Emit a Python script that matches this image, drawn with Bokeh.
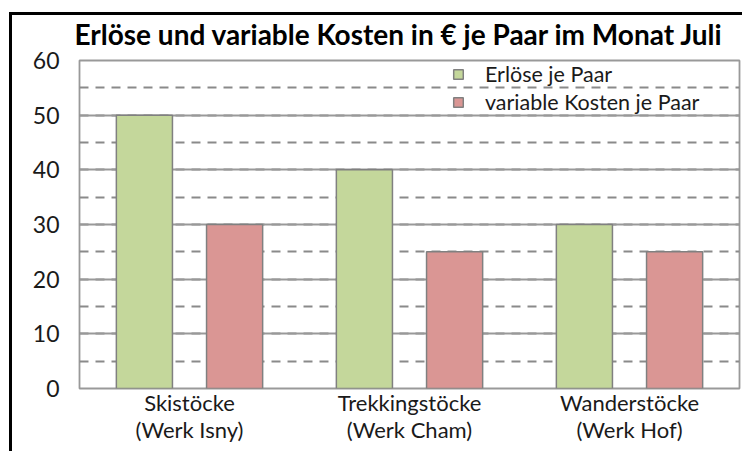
from bokeh.plotting import figure
from bokeh.models import (FactorRange, Range1d, SingleIntervalTicker, Legend,
                          LegendItem, ColumnDataSource)
from bokeh.transform import dodge
from bokeh.embed import file_html
from bokeh.resources import INLINE

# ---- data ----
categories = ["Skistöcke\n(Werk Isny)", "Trekkingstöcke\n(Werk Cham)", "Wanderstöcke\n(Werk Hof)"]
erloese = [50, 40, 30]
kosten = [30, 25, 25]
series_names = ["Erlöse je Paar", "variable Kosten je Paar"]
title_text = "Erlöse und variable Kosten in € je Paar im Monat Juli"

GREEN = "#c4d79b"
RED = "#da9694"
GRID = "#999999"
FONT = "Lato"

source = ColumnDataSource(data=dict(cat=categories, erloese=erloese, kosten=kosten))

p = figure(
    x_range=FactorRange(factors=categories, range_padding=0),
    y_range=Range1d(0, 60),
    frame_width=660, frame_height=328,
    min_border_left=79, min_border_right=3, min_border_top=60, min_border_bottom=63,
    output_backend="svg", toolbar_location=None,
    background_fill_color="white", border_fill_color=None,
)
# black outer frame lines (top and left), painted behind the transparent border area
p.styles = {
    "background": ("linear-gradient(#000,#000) 9px 12px / 734px 3px no-repeat, "
                   "linear-gradient(#000,#000) 9px 12px / 3px 440px no-repeat, #fff"),
}

p.title.text = title_text
p.title.text_font = FONT
p.title.text_font_style = "bold"
p.title.text_font_size = "28px"
p.title.text_color = "black"
p.title.align = "left"
p.title.offset = -5
p.title.standoff = 20

r1 = p.vbar(x=dodge("cat", -0.205, range=p.x_range), top="erloese", width=0.255,
            source=source, fill_color=GREEN, line_color="#808080", line_width=1.5)
r2 = p.vbar(x=dodge("cat", 0.205, range=p.x_range), top="kosten", width=0.255,
            source=source, fill_color=RED, line_color="#808080", line_width=1.5)

p.outline_line_color = GRID
p.outline_line_width = 1.8

p.xgrid.grid_line_color = None
p.yaxis.ticker = SingleIntervalTicker(interval=10, num_minor_ticks=2)
p.ygrid.grid_line_color = GRID
p.ygrid.grid_line_width = 1.8
p.ygrid.minor_grid_line_color = "#8a8a8a"
p.ygrid.minor_grid_line_width = 2
p.ygrid.minor_grid_line_dash = "9 7"

for ax in (p.xaxis, p.yaxis):
    ax.axis_line_color = None
    ax.major_tick_line_color = None
    ax.minor_tick_line_color = None
    ax.major_tick_out = 0
    ax.minor_tick_out = 0
    ax.major_label_text_font = FONT
    ax.major_label_text_color = "#1a1a1a"

p.yaxis.major_label_text_font_size = "23px"
p.yaxis.major_label_standoff = 20
p.xaxis.major_label_text_font_size = "22px"
p.xaxis.major_label_text_line_height = 1.0
p.xaxis.major_label_standoff = 0

legend = Legend(items=[LegendItem(label=series_names[0], renderers=[r1]),
                       LegendItem(label=series_names[1], renderers=[r2])],
                location=(373, 273), padding=0, margin=0, spacing=2,
                glyph_width=12, glyph_height=12, label_height=20, label_standoff=21,
                label_text_font=FONT, label_text_font_size="21.5px",
                label_text_color="#1a1a1a",
                border_line_color=None, background_fill_alpha=0)
p.add_layout(legend)

open("out.html", "w").write(file_html(p, INLINE))
